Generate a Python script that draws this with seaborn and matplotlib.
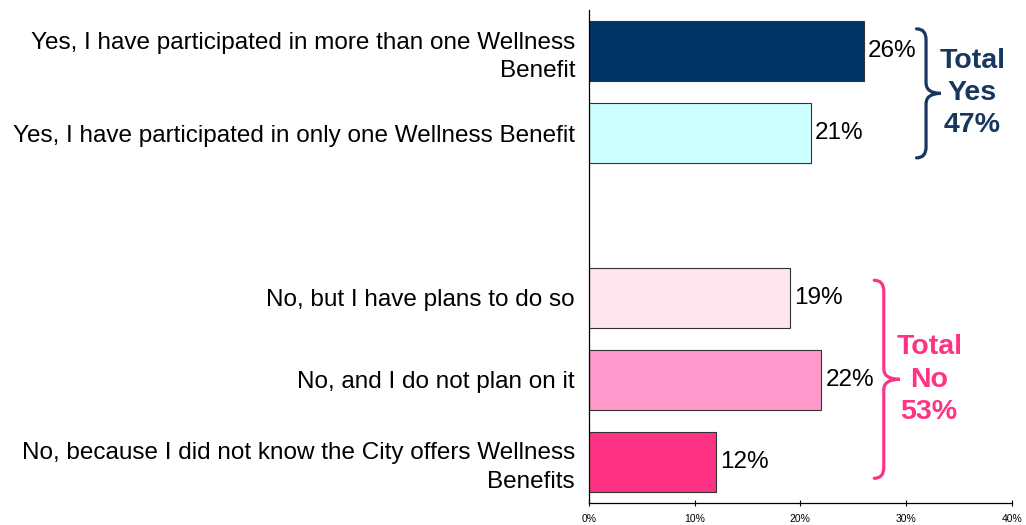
import matplotlib
matplotlib.use("Agg")
import matplotlib.pyplot as plt
from matplotlib.path import Path
from matplotlib.patches import PathPatch
from matplotlib.ticker import PercentFormatter
import seaborn as sns
import pandas as pd

# Survey responses (percent of respondents)
categories = [
    "Yes, I have participated in more than one Wellness\nBenefit",
    "Yes, I have participated in only one Wellness Benefit",
    "No, but I have plans to do so",
    "No, and I do not plan on it",
    "No, because I did not know the City offers Wellness\nBenefits",
]
values = [26, 21, 19, 22, 12]
colors = ["#003366", "#CCFFFF", "#FDE4EE", "#FF99CC", "#FF3385"]
gap = " "  # empty slot separating the Yes and No groups
order = categories[:2] + [gap] + categories[2:]

group_labels = ["Total\nYes\n47%", "Total\nNo\n53%"]
group_colors = ["#17375E", "#FF3385"]
x_ticks = [0, 10, 20, 30, 40]

df = pd.DataFrame({"response": categories, "pct": values})

sns.set_theme(style="white")
plt.rcParams["font.family"] = ["Liberation Sans", "DejaVu Sans"]

fig = plt.figure(figsize=(10.26, 5.25), dpi=100)
ax = fig.add_axes([0.574, 0.042, 0.412, 0.939])

sns.barplot(
    data=df, x="pct", y="response", order=order, hue="response",
    palette=dict(zip(categories, colors)), saturation=1, legend=False,
    orient="h", width=0.73, edgecolor="#333333", linewidth=0.8, ax=ax,
)

for cont in ax.containers:
    ax.bar_label(cont, fmt="%g%%", padding=3, fontsize=17.5, color="black")

ax.set_xlim(0, 40)
ax.set_xticks(x_ticks)
ax.xaxis.set_major_formatter(PercentFormatter(decimals=0))
ax.tick_params(axis="x", labelsize=7.5, length=4, width=0.8, direction="inout",
               color="black", labelcolor="black", pad=6, bottom=True)
ax.tick_params(axis="y", labelsize=17.5, length=0, pad=10, labelcolor="black")
for lbl in ax.get_yticklabels():
    lbl.set_horizontalalignment("right")
    lbl.set_linespacing(1.4)
ax.set_xlabel("")
ax.set_ylabel("")
sns.despine(ax=ax, top=True, right=True)
for side in ("left", "bottom"):
    ax.spines[side].set_color("black")
    ax.spines[side].set_linewidth(0.9)


def curly_brace(ax, x_line, x_end, x_tip, y_top, y_bot, color, r=0.13):
    y_mid = (y_top + y_bot) / 2
    verts = [
        (x_end, y_top), (x_line, y_top), (x_line, y_top + r),
        (x_line, y_mid - r), (x_line, y_mid), (x_tip, y_mid),
        (x_line, y_mid), (x_line, y_mid + r),
        (x_line, y_bot - r), (x_line, y_bot), (x_end, y_bot),
    ]
    codes = [
        Path.MOVETO, Path.CURVE3, Path.CURVE3,
        Path.LINETO, Path.CURVE3, Path.CURVE3,
        Path.CURVE3, Path.CURVE3,
        Path.LINETO, Path.CURVE3, Path.CURVE3,
    ]
    ax.add_patch(PathPatch(Path(verts, codes), fill=False, edgecolor=color,
                           linewidth=2.3, capstyle="round", clip_on=False))


curly_brace(ax, 31.9, 31.0, 33.3, -0.27, 1.30, group_colors[0])
curly_brace(ax, 27.9, 27.0, 29.4, 2.79, 5.20, group_colors[1])

ax.text(36.3, 0.51, group_labels[0], ha="center", va="center", fontsize=20.5,
        fontweight="bold", color=group_colors[0], linespacing=1.32)
ax.text(32.2, 4.0, group_labels[1], ha="center", va="center", fontsize=20.5,
        fontweight="bold", color=group_colors[1], linespacing=1.32)

fig.savefig("out.png", dpi=100)
